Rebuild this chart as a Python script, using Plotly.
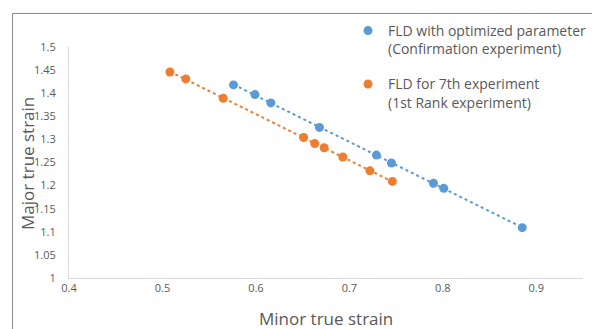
import numpy as np
import plotly.graph_objects as go

# Data
blue_x = [0.576, 0.599, 0.616, 0.668, 0.729, 0.745, 0.790, 0.801, 0.885]
blue_y = [1.418, 1.397, 1.379, 1.326, 1.266, 1.249, 1.205, 1.194, 1.109]
orange_x = [0.508, 0.525, 0.565, 0.651, 0.663, 0.673, 0.693, 0.722, 0.746]
orange_y = [1.446, 1.431, 1.389, 1.304, 1.291, 1.282, 1.262, 1.232, 1.209]

blue_name = "FLD with optimized parameter<br>(Confirmation experiment)"
orange_name = "FLD for 7th experiment<br>(1st Rank experiment)"

x_ticks = [0.4, 0.5, 0.6, 0.7, 0.8, 0.9]
x_tick_text = ["0.4", "0.5", "0.6", "0.7", "0.8", "0.9"]
y_ticks = [1, 1.05, 1.1, 1.15, 1.2, 1.25, 1.3, 1.35, 1.4, 1.45, 1.5]
y_tick_text = ["1", "1.05", "1.1", "1.15", "1.2", "1.25", "1.3", "1.35", "1.4", "1.45", "1.5"]

BLUE = "#5B9BD5"
ORANGE = "#ED7D31"
GRAY = "#595959"
FONT = "Open Sans, Liberation Sans, sans-serif"

W, H = 592, 329


def px_x(p):
    return float(p / W)


def px_y(p):
    return float(1 - p / H)


def trend(xs, ys):
    m, c = np.polyfit(xs, ys, 1)
    tx = np.array([min(xs), max(xs)])
    return tx, m * tx + c


fig = go.Figure()

# outer chart border, drawn on a full-page pixel overlay (decoration, not data)
frame_left, frame_top = 12.5, 13.5
fig.add_trace(go.Scatter(x=[frame_left, frame_left, W], y=[H, frame_top, frame_top],
                         mode="lines", xaxis="x2", yaxis="y2", showlegend=False,
                         hoverinfo="skip", line=dict(color="#8c8c8c", width=1)))

for i, (xs, ys, col) in enumerate([(blue_x, blue_y, BLUE), (orange_x, orange_y, ORANGE)]):
    tx, ty = trend(xs, ys)
    fig.add_trace(go.Scatter(x=tx, y=ty, mode="lines", showlegend=False,
                             legendgroup=f"g{i}",
                             line=dict(color=col, width=2, dash="dot"),
                             hoverinfo="skip"))

fig.add_trace(go.Scatter(x=blue_x, y=blue_y, mode="markers", name=blue_name,
                         legendgroup="g0", marker=dict(color=BLUE, size=9)))
fig.add_trace(go.Scatter(x=orange_x, y=orange_y, mode="markers", name=orange_name,
                         legendgroup="g1", marker=dict(color=ORANGE, size=9)))

fig.add_annotation(text="Major true strain", xref="paper", yref="paper",
                   x=px_x(27), y=px_y(164), xanchor="center", yanchor="middle",
                   textangle=-90, showarrow=False,
                   font=dict(size=17, color=GRAY, family=FONT))
fig.add_annotation(text="Minor true strain", xref="paper", yref="paper",
                   x=px_x(326), y=px_y(318), xanchor="center", yanchor="middle",
                   showarrow=False,
                   font=dict(size=17, color=GRAY, family=FONT))

fig.update_layout(
    width=W, height=H,
    margin=dict(l=0, r=0, t=0, b=0),
    paper_bgcolor="white", plot_bgcolor="rgba(0,0,0,0)",
    font=dict(family=FONT, color=GRAY),
    showlegend=True,
    legend=dict(x=px_x(348), y=px_y(15), xanchor="left", yanchor="top",
                font=dict(size=14, color=GRAY), valign="top",
                tracegroupgap=14, bgcolor="rgba(0,0,0,0)"),
    xaxis=dict(domain=[px_x(69), px_x(583)],
               range=[0.4, 0.95], tickvals=x_ticks, ticktext=x_tick_text,
               showgrid=False, zeroline=False, showline=True, linecolor="#d9d9d9",
               linewidth=1, ticks="", tickfont=dict(size=11, color=GRAY),
               automargin=False),
    yaxis=dict(domain=[px_y(278), px_y(47)],
               range=[1, 1.5], tickvals=y_ticks, ticktext=y_tick_text,
               showgrid=False, zeroline=False, showline=True, linecolor="#d9d9d9",
               linewidth=1, ticks="", tickfont=dict(size=11, color=GRAY),
               ticklabelstandoff=10, automargin=False),
    xaxis2=dict(domain=[0, 1], range=[0, W], anchor="y2", visible=False,
                fixedrange=True),
    yaxis2=dict(domain=[0, 1], range=[H, 0], anchor="x2", visible=False,
                fixedrange=True),
)

fig.write_html("out.html")
